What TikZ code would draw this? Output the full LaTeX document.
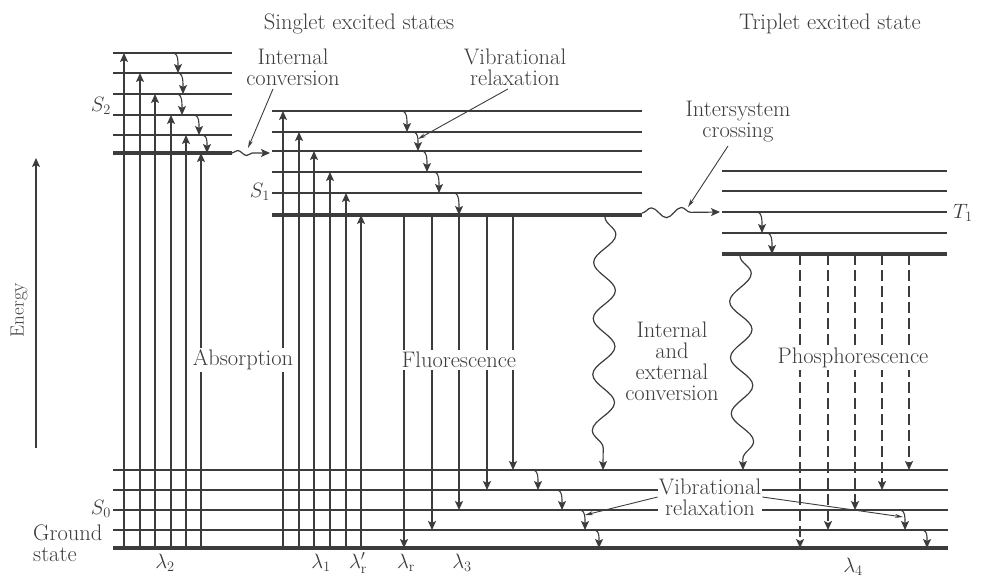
\documentclass[tikz,border=0pt]{standalone}
\usepackage{tikz}
\usetikzlibrary{arrows.meta,decorations.pathmorphing}

\definecolor{ink}{HTML}{3C3C3C}

\tikzset{
  level/.style={draw=ink, line width=1.3pt},
  lowest/.style={draw=ink, line width=3.6pt},
  tip/.style={-{Stealth[length=9pt,width=8pt,inset=2pt]}},
  absorb/.style={tip, draw=ink, line width=1.3pt},
  fluor/.style={tip, draw=ink, line width=2.2pt},
  phos/.style={tip, draw=ink, line width=2.2pt, dash pattern=on 11pt off 5pt},
  vib/.style={tip, draw=ink, line width=1.1pt},
  wavy/.style={tip, draw=ink, line width=1.2pt, decorate},
  pointer/.style={-{Stealth[length=8pt,width=4pt]}, draw=ink, line width=0.9pt},
  txt/.style={text=ink, font=\fontsize{22.5}{21}\selectfont, align=center},
  cover/.style={txt, fill=white, inner sep=2pt}
}

% small relaxation step between two levels
\newcommand{\vibdrop}[3]{\draw[vib] (#1-4,#2) .. controls (#1,#2+2) and (#1,#3-14) .. (#1,#3);}

\begin{document}
\begin{tikzpicture}[x=1pt, y=-1pt]
    \useasboundingbox (0,0) rectangle (981,580);

    % Levels
    \foreach \y in {53,73,94,115,135} \draw[level] (113,\y) -- (232,\y);
    \draw[lowest] (113,153) -- (232,153);
    \foreach \y in {111,132,151,172,193} \draw[level] (272,\y) -- (642,\y);
    \draw[lowest] (272,215) -- (642,215);
    \foreach \y in {171,191,212,233} \draw[level] (722,\y) -- (947,\y);
    \draw[lowest] (722,254) -- (947,254);
    \foreach \y in {470,490,510,530} \draw[level] (113,\y) -- (948,\y);
    \draw[lowest] (113,548) -- (948,548);

    % Absorption
    \foreach \x/\t in {124/53,140/73,155/94,171/115,186/135,201/153,
                       283/111,299/132,314/151,330/172,346/193,361/215}
        \draw[absorb] (\x,548) -- (\x,\t);

    % Fluorescence and phosphorescence
    \foreach \x/\b in {404/548,432/530,459/510,487/490,513/470}
        \draw[fluor] (\x,215) -- (\x,\b);
    \foreach \x/\b in {800/548,828/530,855/510,882/490,909/470}
        \draw[phos] (\x,254) -- (\x,\b);

    % Vibrational relaxation steps
    \foreach \x/\a/\b in {178/53/73,183/73/94,182/94/115,199/115/135,207/135/153,
                          407/111/132,418/132/151,427/151/172,439/172/193,459/193/215,
                          762/212/233,772/233/254,
                          538/470/490,562/490/510,585/510/530,599/530/548,
                          905/510/530,927/530/548}
        {\vibdrop{\x}{\a}{\b}}

    % Radiationless transitions
    \draw[wavy, decoration={snake, amplitude=2.5pt, segment length=18pt, post length=12pt}]
        (232,153) -- (270,153);
    \draw[wavy, decoration={snake, amplitude=5pt, segment length=30pt, post length=16pt}]
        (642,213) -- (720,212);
    \draw[wavy, decoration={snake, amplitude=11pt, segment length=56pt, post length=10pt}]
        (605,217) -- (603,470);
    \draw[wavy, decoration={snake, amplitude=11pt, segment length=56pt, post length=10pt}]
        (740,256) -- (743,470);

    % Energy axis
    \coordinate (eLow) at (36,448);
    \coordinate (eHigh) at (36,158);
    \draw[absorb] (eLow) -- (eHigh);
    \node[text=ink, font=\fontsize{19}{21}\selectfont, rotate=90] (energy) at (19,310) {Energy};

    % Titles
    \node[txt] (singlet) at (359,24) {Singlet excited states};
    \node[txt] (triplet) at (830,24) {Triplet excited state};

    % State labels
    \node[txt, anchor=east, inner sep=1pt] (s2) at (112,106) {$S_2$};
    \node[txt, anchor=east, inner sep=1pt] (s1) at (271,192) {$S_1$};
    \node[txt, anchor=east, inner sep=1pt] (s0) at (112,509) {$S_0$};
    \node[txt, anchor=west, inner sep=1pt] (t1) at (952,213) {$T_1$};
    \node[txt, anchor=west, align=left, inner sep=0pt] (ground) at (33,543) {Ground\\state};

    % Wavelengths
    \node[txt] (l2) at (165,563) {$\lambda_2$};
    \node[txt] (l1) at (321,563) {$\lambda_1$};
    \node[txt] (lrp) at (358,563) {$\lambda'_{\mathrm{r}}$};
    \node[txt] (lr) at (406,563) {$\lambda_{\mathrm{r}}$};
    \node[txt] (l3) at (462,563) {$\lambda_3$};
    \node[txt] (l4) at (853,567) {$\lambda_4$};

    % Process labels
    \node[cover] (absorption) at (243,360) {Absorption};
    \node[cover] (fluorescence) at (459,360) {Fluorescence};
    \node[cover] (phosphorescence) at (853,358) {Phosphorescence};
    \node[txt] (iec) at (672,361) {Internal\\and\\external\\conversion};
    \node[txt] (ic) at (293,67) {Internal\\conversion};
    \node[txt] (vrtop) at (515,67) {Vibrational\\relaxation};
    \node[txt] (isc) at (738,122) {Intersystem\\crossing};
    \node[cover, inner sep=1pt] (vrbot) at (710,497) {Vibrational\\relaxation};

    % Pointers
    \coordinate (icTip) at (248,148);
    \coordinate (vrTip) at (418,139);
    \coordinate (iscTip) at (688,207);
    \coordinate (vrLeft) at (585,515);
    \coordinate (vrRight) at (903,517);
    \draw[pointer] ([xshift=-20pt]ic.south) -- (icTip);
    \draw[pointer] ([xshift=-7pt]vrtop.south) -- (vrTip);
    \draw[pointer] ([xshift=-10pt]isc.south) -- (iscTip);
    \draw[pointer] (vrbot.west) -- (vrLeft);
    \draw[pointer] (vrbot.east) -- (vrRight);

\end{tikzpicture}
\end{document}
